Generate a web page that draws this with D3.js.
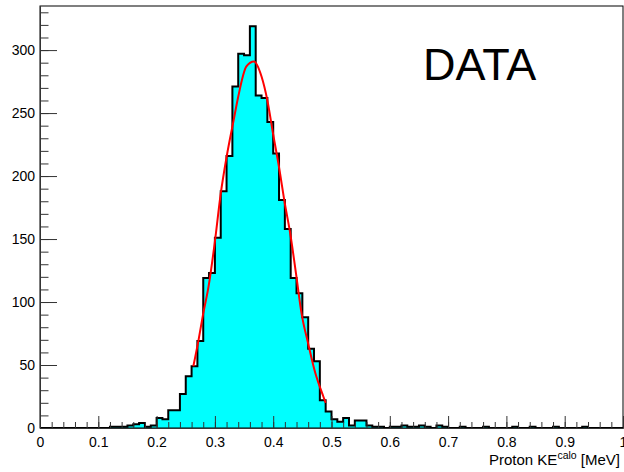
<!doctype html>
<html lang="en">
<head>
  <meta charset="utf-8">
  <title>Proton KE calo - DATA</title>
  <script type="text/javascript" src="https://cdnjs.cloudflare.com/ajax/libs/d3/7.8.5/d3.min.js"></script>
  <style>
    body { margin: 0; background: #fff; }
    text { font-family: "Liberation Sans", Arial, Helvetica, sans-serif; }
  </style>
</head>
<body>
	<svg width="624" height="472" id="svg"></svg>
</body>

<script type="text/javascript">

	// histogram: 100 bins from 0 to 1
	var binLow = 0, binWidth = 0.01;
	var counts = [
		0, 0, 0, 0, 0, 0, 0, 0, 0, 0,
		0, 0, 1, 1, 1, 2, 3, 4, 1, 2,
		8, 7, 14, 14, 27, 41, 49, 69, 119, 123,
		151, 188, 216, 271, 297, 296, 319, 264, 262, 243,
		218, 181, 158, 119, 107, 88, 63, 53, 22, 13,
		7, 5, 8, 2, 6, 6, 2, 1, 1, 0,
		1, 1, 2, 1, 1, 2, 1, 0, 2, 1,
		0, 0, 1, 0, 0, 0, 1, 0, 0, 0,
		0, 1, 0, 0, 1, 0, 0, 0, 1, 0,
		0, 0, 0, 1, 0, 0, 0, 0, 0, 0
	];

	// gaussian fit curve
	var fitX = [0.263, 0.272, 0.280, 0.289, 0.300, 0.310, 0.320, 0.332, 0.340, 0.354, 0.367,
		0.380, 0.390, 0.400, 0.410, 0.420, 0.429, 0.439, 0.449, 0.460, 0.472, 0.486, 0.490];
	var fitY = [49, 70, 91, 112, 148, 186, 215, 244, 263, 287, 291,
		279, 260, 233, 207, 178, 155, 123, 90, 67, 44, 25, 20];

	var xTicks = [0, 0.1, 0.2, 0.3, 0.4, 0.5, 0.6, 0.7, 0.8, 0.9, 1];
	var yTicks = [0, 50, 100, 150, 200, 250, 300];

	var padLeft = 40, padRight = 623, padTop = 6, padBottom = 428;

	var x = d3.scaleLinear().domain([0, 1]).range([padLeft, padRight]);
	var y = d3.scaleLinear().domain([0, 335]).range([padBottom, padTop]);

	var svg = d3.select('#svg');

	var bins = counts.map(function(c, i) {
		return {lo: binLow + i * binWidth, c: c};
	});
	bins.push({lo: binLow + counts.length * binWidth, c: counts[counts.length - 1]});

	var area = d3.area()
		.curve(d3.curveStepAfter)
		.x(function(d) { return x(d.lo); })
		.y0(y(0))
		.y1(function(d) { return y(d.c); });

	var line = d3.line()
		.curve(d3.curveStepAfter)
		.x(function(d) { return x(d.lo); })
		.y(function(d) { return y(d.c); });

	svg.append('path')
		.datum(bins)
		.attr('d', area)
		.attr('fill', '#00ffff');

	svg.append('path')
		.datum(bins)
		.attr('d', line)
		.attr('fill', 'none')
		.attr('stroke', '#000')
		.attr('stroke-width', 2);

	// fit
	var fitLine = d3.line()
		.curve(d3.curveMonotoneX)
		.x(function(d, i) { return x(fitX[i]); })
		.y(function(d) { return y(d); });

	svg.append('path')
		.datum(fitY)
		.attr('d', fitLine)
		.attr('fill', 'none')
		.attr('stroke', '#ff0000')
		.attr('stroke-width', 2);

	// frame
	svg.append('rect')
		.attr('x', padLeft).attr('y', padTop)
		.attr('width', padRight - padLeft).attr('height', padBottom - padTop)
		.attr('fill', 'none')
		.attr('stroke', '#000')
		.attr('stroke-width', 1);

	// axes, ticks pointing inside like ROOT
	svg.append('g')
		.attr('transform', 'translate(' + padLeft + ',0)')
		.call(d3.axisLeft(y).tickValues(yTicks).tickSize(-17).tickSizeOuter(0).tickPadding(5));

	svg.append('g')
		.attr('transform', 'translate(' + padLeft + ',0)')
		.call(d3.axisLeft(y).tickValues(d3.range(0, 335, 10)).tickSize(-8.5).tickSizeOuter(0).tickFormat(''));

	svg.append('g')
		.attr('transform', 'translate(0,' + padBottom + ')')
		.call(d3.axisBottom(x).tickValues(xTicks).tickSize(-12).tickSizeOuter(0).tickPadding(9)
			.tickFormat(function(d) { return d3.format('')(d); }));

	svg.append('g')
		.attr('transform', 'translate(0,' + padBottom + ')')
		.call(d3.axisBottom(x).tickValues(d3.range(0, 1.001, 0.02)).tickSize(-6).tickSizeOuter(0).tickFormat(''));

	svg.selectAll('.domain').attr('stroke', '#333');
	svg.selectAll('.tick line').attr('stroke', '#333');
	svg.selectAll('.tick text')
		.attr('font-size', 14)
		.attr('fill', '#000')
		.style('font-family', '"Liberation Sans", Arial, Helvetica, sans-serif');

	// axis title
	var title = svg.append('text')
		.attr('x', 620)
		.attr('y', 465)
		.attr('text-anchor', 'end')
		.attr('font-size', 15)
		.attr('fill', '#000');
	title.append('tspan').text('Proton KE');
	title.append('tspan').attr('font-size', 10.5).attr('dy', -6).text('calo');
	title.append('tspan').attr('dy', 6).text(' [MeV]');

	svg.append('text')
		.attr('x', 423)
		.attr('y', 80)
		.attr('font-size', 45)
		.attr('fill', '#000')
		.text('DATA');

</script>
</html>
